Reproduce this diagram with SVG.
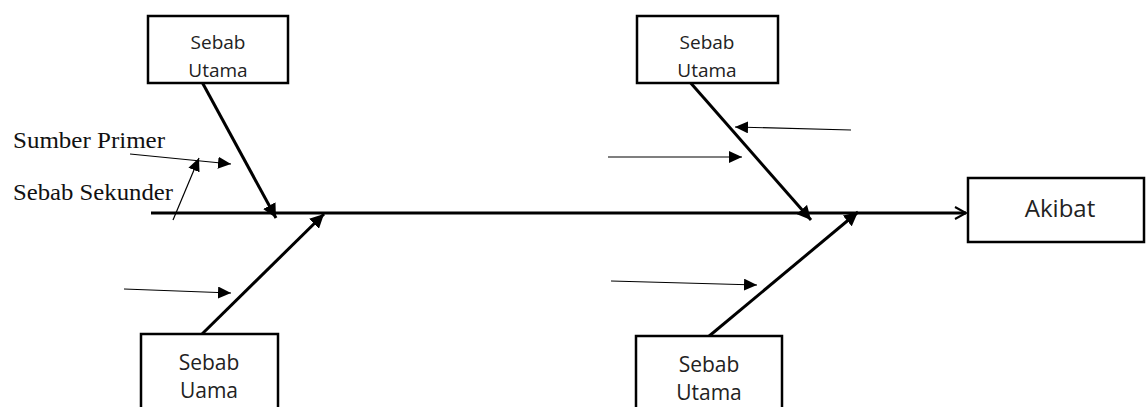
<svg xmlns="http://www.w3.org/2000/svg" width="1146" height="407" viewBox="0 0 1146 407">
<style>
.box{fill:#fff;stroke:#000;stroke-width:2.5}
.lbl{font-family:"Open Sans","Liberation Sans",sans-serif;fill:#222;text-anchor:middle}
.ser{font-family:"Liberation Serif","Times New Roman",serif;fill:#111;font-size:23px}
.bone{stroke:#000;stroke-width:3;fill:none}
.thin{stroke:#000;stroke-width:1.2;fill:none}
</style>
<defs>
<marker id="tri" markerUnits="userSpaceOnUse" markerWidth="14" markerHeight="12" refX="13" refY="6" orient="auto">
<path d="M0,0 L13,6 L0,12 Z" fill="#000"/>
</marker>
<marker id="tri2" markerUnits="userSpaceOnUse" markerWidth="16" markerHeight="14" refX="14" refY="7" orient="auto">
<path d="M0,0 L14,7 L0,14 Z" fill="#000"/>
</marker>
<marker id="open" markerUnits="userSpaceOnUse" markerWidth="16" markerHeight="16" refX="13" refY="8" orient="auto">
<path d="M2,2 L13,8 L2,14" fill="none" stroke="#000" stroke-width="2"/>
</marker>
</defs>
<rect width="1146" height="407" fill="#fff"/>
<g id="connectors">
<line class="bone" x1="151" y1="213" x2="966" y2="213" marker-end="url(#open)"/>
<line class="bone" x1="202" y1="82" x2="276" y2="218" marker-end="url(#tri2)"/>
<line class="bone" x1="689" y1="81" x2="811" y2="220" stroke-width="2.5" marker-end="url(#tri2)"/>
<line class="bone" x1="199" y1="337" x2="324" y2="214" stroke-width="2.5" marker-end="url(#tri2)"/>
<line class="bone" x1="702" y1="342" x2="858" y2="212" stroke-width="2.5" marker-end="url(#tri2)"/>
<line class="thin" x1="130" y1="154" x2="231" y2="164" marker-end="url(#tri)"/>
<line class="thin" x1="173" y1="220" x2="199" y2="158" marker-end="url(#tri)"/>
<line class="thin" x1="124" y1="289" x2="231" y2="293" marker-end="url(#tri)"/>
<line class="thin" x1="851" y1="130" x2="735" y2="127" marker-end="url(#tri)"/>
<line class="thin" x1="608" y1="157" x2="742" y2="157" marker-end="url(#tri)"/>
<line class="thin" x1="611" y1="281" x2="757" y2="285" marker-end="url(#tri)"/>
</g>
<g id="box-top-left">
<rect class="box" x="148" y="16" width="140" height="67"/>
<text class="lbl" x="218" y="49" font-size="19">Sebab</text>
<text class="lbl" x="218" y="77" font-size="19">Utama</text>
</g>
<g id="box-top-right">
<rect class="box" x="637" y="16" width="141" height="67"/>
<text class="lbl" x="707" y="49" font-size="19">Sebab</text>
<text class="lbl" x="707" y="77" font-size="19">Utama</text>
</g>
<g id="box-bottom-left">
<rect class="box" x="141" y="334" width="137" height="80"/>
<text class="lbl" x="209" y="370" font-size="21">Sebab</text>
<text class="lbl" x="209" y="398" font-size="21">Uama</text>
</g>
<g id="box-bottom-right">
<rect class="box" x="636" y="336" width="146" height="80"/>
<text class="lbl" x="709" y="372" font-size="21">Sebab</text>
<text class="lbl" x="709" y="400" font-size="21">Utama</text>
</g>
<g id="box-akibat">
<rect class="box" x="968" y="178" width="176" height="64"/>
<text class="lbl" x="1060" y="217" font-size="24">Akibat</text>
</g>
<g id="labels">
<text class="ser" x="13" y="148" textLength="152" lengthAdjust="spacingAndGlyphs">Sumber Primer</text>
<text class="ser" x="13" y="200" textLength="160" lengthAdjust="spacingAndGlyphs">Sebab Sekunder</text>
</g>
</svg>
